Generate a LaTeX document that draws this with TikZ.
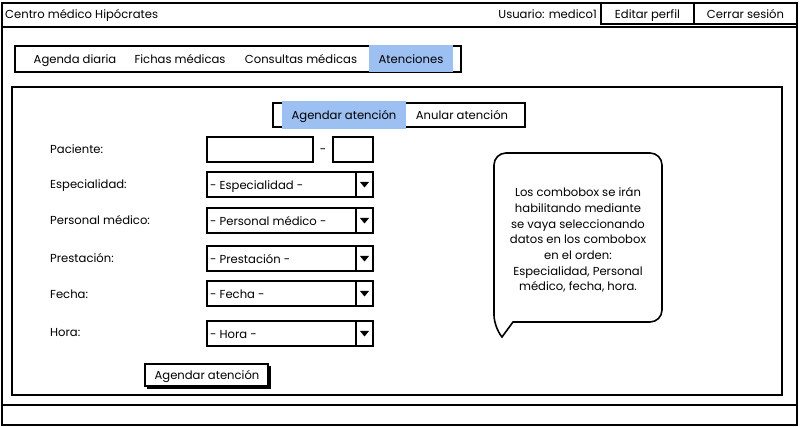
\documentclass[tikz,border=0pt]{standalone}
\usepackage{fontspec}
\setmainfont{Poppins}
\definecolor{selblue}{RGB}{157,192,242}
\begin{document}
\begin{tikzpicture}[x=1pt,y=-1pt,
  font=\fontsize{11.6}{14}\selectfont,
  frame/.style={draw=black,line width=1.3pt},
  boxline/.style={draw=black,line width=1.8pt},
  lbl/.style={anchor=base west,inner sep=0pt,yshift=-5pt},
  ctext/.style={anchor=base,inner sep=0pt,yshift=-5pt},
  rtext/.style={anchor=base east,inner sep=0pt,yshift=-5pt}]
\useasboundingbox (0,0) rectangle (801,427);
% window
\draw[frame,fill=white] (2,3) rectangle (797,425);
\draw[frame] (2,27) -- (797,27);
\draw[boxline] (2,405) -- (797,405);
\node[lbl] (title) at (5,14) {Centro médico Hipócrates};
\node[rtext] (user) at (597,14) {Usuario: medico1};
\draw[boxline] (601,3) rectangle (694,24);
\draw[boxline] (694,3) rectangle (797,24);
\node[ctext] (edit) at (647.5,14) {Editar perfil};
\node[ctext] (logout) at (745.5,14) {Cerrar sesión};
% main tab bar
\draw[boxline] (15,46) rectangle (461,72);
\fill[selblue] (369,45) rectangle (453,72.5);
\node[ctext] (t1) at (75,59) {Agenda diaria};
\node[ctext] (t2) at (180,59) {Fichas médicas};
\node[ctext] (t3) at (301,59) {Consultas médicas};
\node[ctext] (t4) at (411,59) {Atenciones};
% inner panel
\draw[boxline] (12,87) rectangle (782,395);
% sub tab bar
\draw[boxline] (273,103) rectangle (525,127);
\fill[selblue] (282,101) rectangle (406,129);
\node[ctext] (s1) at (344,115) {Agendar atención};
\node[ctext] (s2) at (462,115) {Anular atención};
% labels
\node[lbl] (lp) at (50,149) {Paciente:};
\node[lbl] (le) at (50,184) {Especialidad:};
\node[lbl] (lm) at (50,220) {Personal médico:};
\node[lbl] (lr) at (50,258) {Prestación:};
\node[lbl] (lf) at (50,294) {Fecha:};
\node[lbl] (lh) at (50,332) {Hora:};
% paciente fields
\draw[boxline] (207,137) rectangle (313,162);
\node[ctext] (dash) at (323,149) {-};
\draw[boxline] (333,137) rectangle (373,162);
% comboboxes
\foreach \y/\t/\n in {172/{- Especialidad -}/ce,208/{- Personal médico -}/cm,246/{- Prestación -}/cr,281/{- Fecha -}/cf,321/{- Hora -}/ch}{
  \draw[boxline] (207,\y) rectangle (373,\y+25);
  \draw[boxline] (356,\y) -- (356,\y+25);
  \fill (360,\y+10) -- (369,\y+10) -- (364.5,\y+15.5) -- cycle;
  \node[lbl] (\n) at (210,\y+12.5) {\t};
}
% button
\draw[line width=2.5pt] (147,388) -- (270,388) -- (270,366);
\draw[line width=1.3pt,fill=white] (145,364) rectangle (268,386);
\node[ctext] (btn) at (207,375) {Agendar atención};
% speech bubble
\draw[line width=1.6pt,fill=white] (513,322) [rounded corners=12pt] -- (662,322) -- (662,153) -- (494,153) -- (494,327) [sharp corners] -- (502,337) -- cycle;
\node[anchor=center,inner sep=0pt,align=center,font=\fontsize{11.6}{15.7}\selectfont] (note) at (578,240) {Los combobox se irán\\habilitando mediante\\se vaya seleccionando\\datos en los combobox\\en el orden:\\Especialidad, Personal\\médico, fecha, hora.};
\end{tikzpicture}
\end{document}
